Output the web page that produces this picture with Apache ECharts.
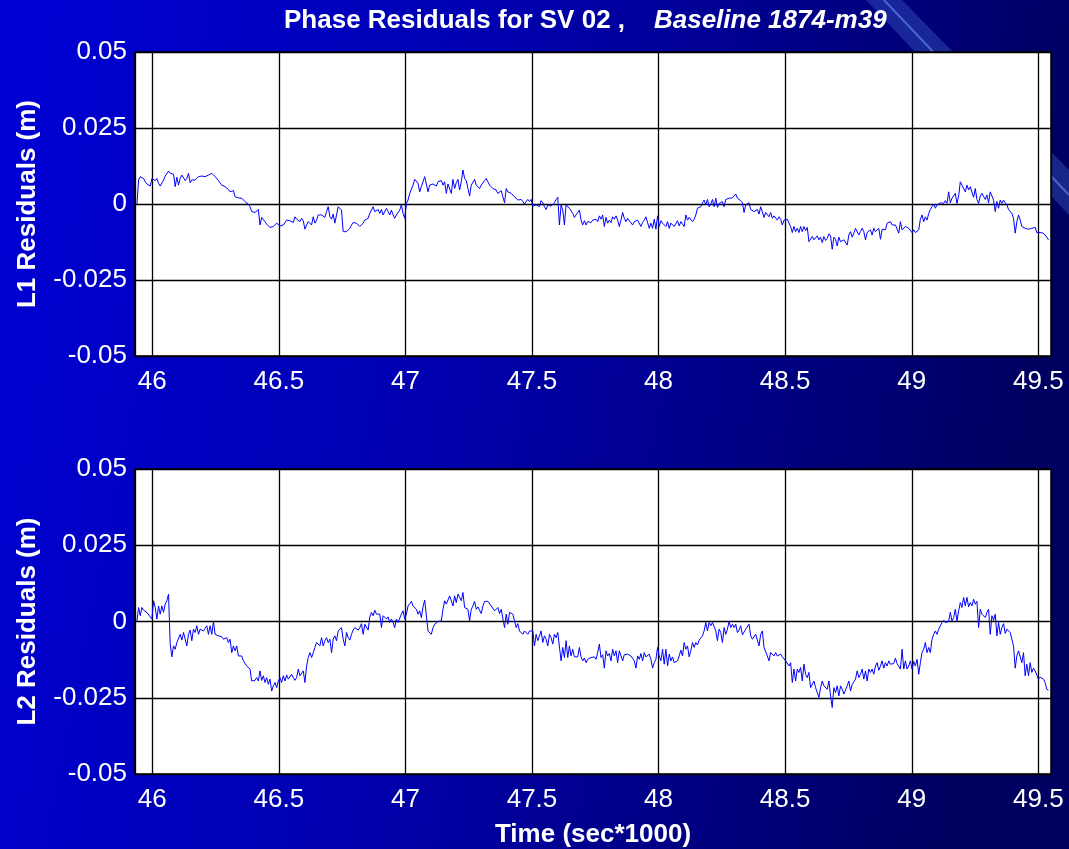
<!DOCTYPE html>
<html>
<head>
<meta charset="utf-8">
<script src="https://cdn.jsdelivr.net/npm/echarts@6/dist/echarts.min.js"></script>
<style>
html,body{margin:0;padding:0;background:#0000c0;}
#chart{width:1069px;height:849px;}
</style>
</head>
<body>
<div id="chart"></div>
<script>
// sampling of the residual series (time in sec*1000)
const startTime = 45.9396;
const sampleStep = 0.00657;

const yTicks = [-0.05, -0.025, 0, 0.025, 0.05];
const xTickLabels = ['46', '46.5', '47', '47.5', '48', '48.5', '49', '49.5'];

// L1 phase residuals (m)
const l1Values = [
0, 0.0079, 0.0090, 0.0088, 0.0084, 0.0073, 0.0066, 0.0068, 0.0059, 0.0084,
0.0090, 0.0077, 0.0084, 0.0068, 0.0059, 0.0057, 0.0079, 0.0092, 0.0090, 0.0108,
0.0101, 0.0095, 0.0098, 0.0057, 0.0088, 0.0062, 0.0084, 0.0095, 0.0090, 0.0077,
0.0084, 0.0101, 0.0070, 0.0079, 0.0081, 0.0079, 0.0084, 0.0090, 0.0084, 0.0092,
0.0088, 0.0090, 0.0092, 0.0095, 0.0098, 0.0101, 0.0103, 0.0090, 0.0088, 0.0077,
0.0073, 0.0062, 0.0066, 0.0057, 0.0059, 0.0048, 0.0040, 0.0035, 0.0044, 0.0024,
0.0023, 0.0020, 0.0015, 0.0019, 0.0013, 0.0008, 0.0002, -0.0001, -0.0009, -0.0025,
-0.0028, -0.0028, -0.0024, -0.0018, -0.0069, -0.0044, -0.0050, -0.0058, -0.0066, -0.0069,
-0.0077, -0.0083, -0.0074, -0.0069, -0.0063, -0.0058, -0.0072, -0.0070, -0.0069, -0.0066,
-0.0053, -0.0058, -0.0055, -0.0050, -0.0061, -0.0042, -0.0050, -0.0055, -0.0058, -0.0047,
-0.0055, -0.0083, -0.0069, -0.0058, -0.0053, -0.0069, -0.0042, -0.0063, -0.0053, -0.0036,
-0.0042, -0.0036, -0.0033, -0.0044, -0.0025, -0.0009, -0.0042, -0.0050, -0.0033, -0.0063,
-0.0036, -0.0009, -0.0009, -0.0020, -0.0091, -0.0096, -0.0091, -0.0085, -0.0080, -0.0069,
-0.0061, -0.0058, -0.0063, -0.0069, -0.0074, -0.0069, -0.0063, -0.0053, -0.0053, -0.0047,
-0.0031, -0.0036, -0.0009, -0.0025, -0.0028, -0.0018, -0.0031, -0.0018, -0.0036, -0.0031,
-0.0014, -0.0025, -0.0036, -0.0020, -0.0036, -0.0047, -0.0036, -0.0031, -0.0020, -0.0003,
-0.0031, -0.0047, 0.0002, 0.0013, 0.0035, 0.0030, 0.0062, 0.0081, 0.0077, 0.0068,
0.0040, 0.0057, 0.0051, 0.0090, 0.0092, 0.0040, 0.0062, 0.0059, 0.0066, 0.0068,
0.0059, 0.0073, 0.0068, 0.0077, 0.0062, 0.0073, 0.0035, 0.0066, 0.0070, 0.0035,
0.0081, 0.0051, 0.0070, 0.0081, 0.0046, 0.0073, 0.0112, 0.0084, 0.0077, 0.0051,
0.0026, 0.0062, 0.0068, 0.0081, 0.0062, 0.0068, 0.0051, 0.0062, 0.0068, 0.0077,
0.0084, 0.0073, 0.0062, 0.0059, 0.0051, 0.0051, 0.0046, 0.0035, 0.0040, 0.0044,
0.0024, 0.0004, 0.0051, 0.0040, 0.0037, 0.0035, 0.0030, 0.0024, 0.0022, 0.0013,
0.0008, 0.0015, 0.0008, 0, 0.0008, 0.0015, 0.0008, 0.0015, -0.0007, -0.0009,
-0.0003, -0.0003, -0.0009, 0.0011, 0.0004, -0.0009, -0.0018, -0.0003, -0.0007, -0.0007,
-0.0009, 0.0004, 0.0015, 0.0022, -0.0069, -0.0003, -0.0020, -0.0069, -0.0003, -0.0009,
-0.0014, -0.0020, -0.0031, -0.0044, -0.0036, -0.0031, -0.0020, -0.0053, -0.0069, -0.0055,
-0.0069, -0.0058, -0.0061, -0.0061, -0.0053, -0.0053,
-0.0050, -0.0058, -0.0039, -0.0050, -0.0036, -0.0074, -0.0044, -0.0063, -0.0053, -0.0061,
-0.0042, -0.0050, -0.0039, -0.0053, -0.0074, -0.0053, -0.0028, -0.0047, -0.0058, -0.0047,
-0.0055, -0.0053, -0.0069, -0.0058, -0.0063, -0.0053, -0.0047, -0.0074, -0.0061, -0.0053,
-0.0042, -0.0039, -0.0080, -0.0063, -0.0080, -0.0050, -0.0083, -0.0039, -0.0074, -0.0055,
-0.0063, -0.0061, -0.0074, -0.0058, -0.0080, -0.0063, -0.0058, -0.0074, -0.0069, -0.0055,
-0.0072, -0.0058, -0.0055, -0.0074, -0.0036, -0.0053, -0.0044, -0.0047, -0.0058, -0.0050,
-0.0036, -0.0014, -0.0009, -0.0009, 0.0004, 0.0013, -0.0003, 0.0015, -0.0009, 0,
0.0015, -0.0009, 0.0019, -0.0011, 0.0002, -0.0003, 0.0008, -0.0009, 0.0015, 0.0019,
0.0019, 0.0019, 0.0020, 0.0022, 0.0033, 0.0019, 0.0015, 0.0011, 0.0004, -0.0028,
-0.0003, -0.0009, 0.0004, -0.0018, -0.0014, -0.0025, -0.0020, -0.0018, -0.0033, -0.0009,
-0.0014, -0.0044, -0.0028, -0.0031, -0.0042, -0.0028, -0.0047, -0.0039, -0.0036, -0.0053,
-0.0042, -0.0050, -0.0069, -0.0053, -0.0058, -0.0050, -0.0063, -0.0074, -0.0094, -0.0074,
-0.0091, -0.0080, -0.0094, -0.0074, -0.0091, -0.0074, -0.0088, -0.0077, -0.0124, -0.0118,
-0.0107, -0.0118, -0.0124, -0.0105, -0.0118, -0.0109, -0.0127, -0.0107, -0.0120, -0.0113,
-0.0098, -0.0105, -0.0149, -0.0109, -0.0116, -0.0138, -0.0109, -0.0124, -0.0129, -0.0118,
-0.0116, -0.0135, -0.0102, -0.0091, -0.0109, -0.0096, -0.0080, -0.0074, -0.0102, -0.0091,
-0.0080, -0.0091, -0.0118, -0.0094, -0.0096, -0.0085, -0.0102, -0.0080, -0.0091, -0.0091,
-0.0080, -0.0116, -0.0083, -0.0080, -0.0085, -0.0063, -0.0069, -0.0058, -0.0069, -0.0069,
-0.0069, -0.0069, -0.0096, -0.0058, -0.0085, -0.0080, -0.0074, -0.0072, -0.0080, -0.0085,
-0.0094, -0.0085, -0.0094, -0.0091, -0.0085, -0.0050, -0.0036, -0.0058, -0.0042, -0.0053,
-0.0031, -0.0018, -0.0009, 0, -0.0014, -0.0003, 0, 0.0004, 0.0008, 0.0002,
0.0011, 0.0002, 0.0040, 0.0004, 0.0019, 0.0015, 0.0035, 0.0002, 0.0026, 0.0073,
0.0062, 0.0057, 0.0040, 0.0062, 0.0046, 0.0057, 0.0059, 0.0022, 0.0051, 0.0015,
0.0002, 0.0026, 0.0035, 0.0040, 0.0015, 0.0030, 0.0004, 0.0040, 0.0037, 0.0013,
-0.0025, 0.0008, -0.0014, 0.0013, 0.0002, 0.0013, 0.0004, -0.0003, -0.0018, -0.0014,
-0.0031, -0.0047, -0.0096, -0.0058, -0.0036, -0.0053, -0.0074, -0.0077, -0.0080, -0.0080,
-0.0083, -0.0080, -0.0080, -0.0085, -0.0077, -0.0094, -0.0094, -0.0094, -0.0094, -0.0096,
-0.0102, -0.0109, -0.0118
];

// L2 phase residuals (m)
const l2Values = [
0.0002, 0.0046, 0.0019, 0.0046, 0.0037, 0.0035, 0.0030, 0.0024, 0.0015, 0.0008,
0.0068, 0.0046, 0.0008, 0.0051, 0.0024, 0.0051, 0.0030, 0.0057, 0.0068, 0.0090,
-0.0074, -0.0116, -0.0080, -0.0091, -0.0069, -0.0074, -0.0042, -0.0061, -0.0036, -0.0031,
-0.0080, -0.0042, -0.0028, -0.0063, -0.0025, -0.0036, -0.0014, -0.0042, -0.0025, -0.0022,
-0.0031, -0.0025, -0.0014, -0.0042, -0.0014, -0.0042, 0, -0.0042, -0.0042, -0.0047,
-0.0053, -0.0050, -0.0058, -0.0061, -0.0053, -0.0069, -0.0058, -0.0102, -0.0080, -0.0096,
-0.0080, -0.0113, -0.0109, -0.0113, -0.0129, -0.0135, -0.0146, -0.0140, -0.0156, -0.0195,
-0.0200, -0.0193, -0.0184, -0.0195, -0.0162, -0.0193, -0.0178, -0.0200, -0.0184, -0.0206,
-0.0189, -0.0228, -0.0211, -0.0200, -0.0217, -0.0195, -0.0184, -0.0200, -0.0178, -0.0195,
-0.0175, -0.0189, -0.0184, -0.0173, -0.0184, -0.0193, -0.0184, -0.0156, -0.0178, -0.0173,
-0.0162, -0.0200, -0.0146, -0.0118, -0.0102, -0.0118, -0.0102, -0.0085, -0.0069, -0.0069,
-0.0080, -0.0053, -0.0080, -0.0063, -0.0053, -0.0069, -0.0058, -0.0102, -0.0058, -0.0047,
-0.0063, -0.0031, -0.0025, -0.0020, -0.0058, -0.0080, -0.0036, -0.0053, -0.0061, -0.0042,
-0.0028, -0.0020, -0.0025, -0.0028, -0.0020, -0.0007, -0.0042, -0.0009, -0.0007, -0.0028,
0.0015, 0.0030, 0.0019, 0.0037, 0.0024, 0.0030, 0.0024, -0.0020, 0.0019, 0.0013,
0.0008, 0.0015, -0.0003, 0.0008, -0.0003, -0.0020, 0.0008, -0.0003, 0.0011, 0.0024,
0.0035, 0.0008, 0.0024, 0.0051, 0.0059, 0.0066, 0.0051, 0.0057, 0.0040, 0.0024,
0.0035, 0.0013, 0.0048, 0.0070, 0.0070, -0.0031, -0.0025, -0.0042, -0.0020, -0.0009,
-0.0014, 0, -0.0003, 0.0002, 0.0040, 0.0068, 0.0057, 0.0051, 0.0084, 0.0079,
0.0051, 0.0084, 0.0062, 0.0090, 0.0090, 0.0068, 0.0095, 0.0046, 0.0048, 0.0040,
0.0002, 0.0040, 0.0051, 0.0066, 0.0040, 0.0048, 0.0046, 0.0026, 0.0051, 0.0066,
0.0062, 0.0066, 0.0066, 0.0051, 0.0046, 0.0035, 0.0030, 0.0046, 0.0026, 0.0040,
0.0035, -0.0020, 0.0024, -0.0009, 0.0030, 0.0024, 0.0024, 0.0002, -0.0020, -0.0007,
-0.0031, -0.0025, -0.0042, -0.0031, -0.0036, -0.0042, -0.0031, -0.0036, -0.0031, -0.0080,
-0.0042, -0.0063, -0.0069, -0.0031, -0.0069, -0.0047, -0.0058, -0.0080, -0.0042, -0.0053,
-0.0074, -0.0042, -0.0053, -0.0036, -0.0031, -0.0129, -0.0085, -0.0118, -0.0063, -0.0118,
-0.0080, -0.0113, -0.0091, -0.0116, -0.0113, -0.0116, -0.0085, -0.0116, -0.0129, -0.0120,
-0.0135, -0.0124, -0.0129, -0.0118, -0.0124, -0.0116,
-0.0124, -0.0102, -0.0074, -0.0118, -0.0109, -0.0153, -0.0096, -0.0113, -0.0105, -0.0129,
-0.0091, -0.0113, -0.0096, -0.0135, -0.0096, -0.0102, -0.0129, -0.0109, -0.0113, -0.0107,
-0.0113, -0.0113, -0.0109, -0.0129, -0.0153, -0.0113, -0.0124, -0.0105, -0.0129, -0.0102,
-0.0116, -0.0118, -0.0107, -0.0124, -0.0153, -0.0135, -0.0124, -0.0085, -0.0113, -0.0129,
-0.0091, -0.0140, -0.0091, -0.0146, -0.0107, -0.0129, -0.0116, -0.0135, -0.0138, -0.0129,
-0.0113, -0.0094, -0.0113, -0.0069, -0.0091, -0.0080, -0.0116, -0.0096, -0.0069, -0.0085,
-0.0069, -0.0077, -0.0061, -0.0058, -0.0047, -0.0031, -0.0003, -0.0031, -0.0003, -0.0014,
-0.0003, 0, -0.0031, -0.0063, -0.0025, -0.0036, -0.0069, -0.0020, -0.0042, -0.0025,
0, -0.0020, -0.0009, -0.0020, -0.0009, -0.0036, -0.0028, -0.0014, -0.0044, -0.0047,
-0.0025, -0.0031, -0.0009, -0.0047, -0.0058, -0.0063, -0.0042, -0.0047, -0.0080, -0.0042,
-0.0031, -0.0085, -0.0085, -0.0113, -0.0129, -0.0102, -0.0107, -0.0113, -0.0102, -0.0113,
-0.0118, -0.0107, -0.0116, -0.0113, -0.0129, -0.0129, -0.0146, -0.0135, -0.0200, -0.0156,
-0.0195, -0.0156, -0.0167, -0.0151, -0.0195, -0.0140, -0.0173, -0.0184, -0.0167, -0.0217,
-0.0222, -0.0195, -0.0217, -0.0211, -0.0249, -0.0217, -0.0195, -0.0211, -0.0206, -0.0222,
-0.0195, -0.0244, -0.0282, -0.0217, -0.0233, -0.0211, -0.0244, -0.0211, -0.0222, -0.0238,
-0.0244, -0.0211, -0.0195, -0.0228, -0.0206, -0.0200, -0.0189, -0.0162, -0.0184, -0.0173,
-0.0156, -0.0189, -0.0162, -0.0195, -0.0156, -0.0167, -0.0156, -0.0173, -0.0146, -0.0135,
-0.0160, -0.0146, -0.0129, -0.0153, -0.0135, -0.0146, -0.0129, -0.0140, -0.0135, -0.0138,
-0.0120, -0.0138, -0.0135, -0.0156, -0.0091, -0.0156, -0.0129, -0.0156, -0.0146, -0.0129,
-0.0156, -0.0131, -0.0146, -0.0124, -0.0173, -0.0135, -0.0102, -0.0091, -0.0069, -0.0102,
-0.0085, -0.0102, -0.0058, -0.0042, -0.0031, -0.0042, -0.0025, -0.0020, -0.0003, 0.0004,
-0.0003, 0.0002, 0, 0.0030, 0.0002, 0.0013, 0.0040, 0.0002, 0.0035, 0.0062,
0.0046, 0.0079, 0.0051, 0.0079, 0.0048, 0.0062, 0.0051, 0.0073, 0.0057, 0.0066,
-0.0020, 0.0040, 0.0024, 0.0026, 0.0013, 0.0030, 0.0040, -0.0042, 0.0019, 0.0004,
0.0024, -0.0047, -0.0003, -0.0042, -0.0020, -0.0007, -0.0039, -0.0025, -0.0025, -0.0036,
-0.0042, -0.0080, -0.0153, -0.0113, -0.0096, -0.0096, -0.0135, -0.0102, -0.0178, -0.0140,
-0.0178, -0.0135, -0.0167, -0.0153, -0.0162, -0.0156, -0.0189, -0.0182, -0.0184, -0.0189,
-0.0200, -0.0222, -0.0225
];

const titleMain = 'Phase Residuals for SV 02 ,';
const titleSub = 'Baseline 1874-m39';
const l1Name = 'L1 Residuals (m)';
const l2Name = 'L2 Residuals (m)';
const xName = 'Time (sec*1000)';

const FONT = '"Liberation Sans", Arial, sans-serif';
const toPairs = arr => arr.map((v, i) => [startTime + i * sampleStep, v]);

const chart = echarts.init(document.getElementById('chart'), null, {renderer: 'canvas'});

function xAxisFor(gridIndex, withName) {
  return {
    type: 'value', gridIndex: gridIndex,
    min: 45.932, max: 49.55, splitNumber: 7,
    axisLine: {show: false}, axisTick: {show: false},
    axisLabel: {
      color: '#fff', fontSize: 26, fontFamily: FONT, margin: 13,
      formatter: function (v) {
        const s = String(Math.round(v * 10) / 10);
        return xTickLabels.indexOf(s) >= 0 && Math.abs(v * 2 - Math.round(v * 2)) < 1e-6 ? s : '';
      }
    },
    splitLine: {show: true, lineStyle: {color: '#000', width: 1.3}},
    name: withName ? xName : '',
    nameLocation: 'middle', nameGap: 48,
    nameTextStyle: {color: '#fff', fontSize: 26, fontWeight: 'bold', fontFamily: FONT}
  };
}
function yAxisFor(gridIndex, name) {
  return {
    type: 'value', gridIndex: gridIndex,
    min: yTicks[0], max: yTicks[yTicks.length - 1], interval: 0.025,
    axisLine: {show: false}, axisTick: {show: false},
    axisLabel: {color: '#fff', fontSize: 26, fontFamily: FONT, margin: 8,
      formatter: v => String(Math.round(v * 1000) / 1000)},
    splitLine: {show: true, lineStyle: {color: '#000', width: 1.3}},
    name: name, nameLocation: 'middle', nameGap: 94, nameRotate: 90,
    nameTextStyle: {color: '#fff', fontSize: 26, fontWeight: 'bold', fontFamily: FONT}
  };
}

const option = {
  animation: false,
  backgroundColor: {
    type: 'linear', x: 0, y: 0, x2: 1, y2: 0.25,
    colorStops: [
      {offset: 0, color: '#0000d6'},
      {offset: 0.45, color: '#0000b0'},
      {offset: 1, color: '#000060'}
    ]
  },
  title: {
    text: '{a|' + titleMain + '}{b|    ' + titleSub + '}',
    left: 284, top: 8, padding: 0,
    textStyle: {
      rich: {
        a: {color: '#fff', fontSize: 26, fontWeight: 'bold', fontFamily: FONT},
        b: {color: '#fff', fontSize: 26, fontWeight: 'bold', fontStyle: 'italic', fontFamily: FONT}
      }
    }
  },
  graphic: [
    {type: 'polygon', z: -100, silent: true,
      shape: {points: [[866, 0], [902, 0], [1069, 170], [1069, 215]]},
      style: {fill: 'rgba(70,110,210,0.35)'}},
    {type: 'line', z: -100, silent: true,
      shape: {x1: 884, y1: 0, x2: 1069, y2: 195},
      style: {stroke: 'rgba(110,160,255,0.55)', lineWidth: 2}}
  ],
  grid: [
    {left: 135, top: 52, width: 916, height: 304, show: true, backgroundColor: '#fff', borderColor: '#000', borderWidth: 1.5},
    {left: 135, top: 469, width: 916, height: 305, show: true, backgroundColor: '#fff', borderColor: '#000', borderWidth: 1.5}
  ],
  xAxis: [xAxisFor(0, false), xAxisFor(1, true)],
  yAxis: [yAxisFor(0, l1Name), yAxisFor(1, l2Name)],
  series: [
    {type: 'line', xAxisIndex: 0, yAxisIndex: 0, data: toPairs(l1Values), showSymbol: false,
      lineStyle: {color: '#0000ff', width: 1}, z: 3},
    {type: 'line', xAxisIndex: 1, yAxisIndex: 1, data: toPairs(l2Values), showSymbol: false,
      lineStyle: {color: '#0000ff', width: 1}, z: 3}
  ]
};
chart.setOption(option);
</script>
</body>
</html>
